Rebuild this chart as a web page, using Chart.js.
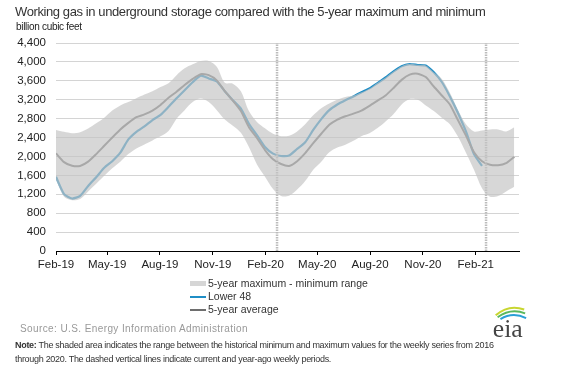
<!DOCTYPE html>
<html>
<head>
<meta charset="utf-8">
<script src="https://cdn.jsdelivr.net/npm/chart.js@4.4.1/dist/chart.umd.min.js"></script>
<style>
  body { margin: 0; background: #fff; font-family: "Liberation Sans", Arial, sans-serif; }
  #wrap { position: relative; width: 565px; height: 375px; overflow: hidden; }
  #chart { position: absolute; left: 0; top: 0; }
  .txt { position: absolute; white-space: nowrap; }
  #title { left: 15px; top: 4px; font-size: 13px; color: #333; letter-spacing: -0.4px; }
  #units { left: 16px; top: 21px; font-size: 10px; color: #222; letter-spacing: -0.3px; }
  #legend { left: 190px; top: 277px; font-size: 10.5px; color: #333; }
  #legend div { height: 13px; line-height: 13px; position: relative; padding-left: 18px; }
  #legend span.sw { position: absolute; left: 0; width: 16px; }
  #source { left: 20px; top: 323px; font-size: 10px; color: #999; letter-spacing: 0.4px; }
  #note { left: 15px; top: 338px; font-size: 9px; color: #333; line-height: 14px; letter-spacing: -0.3px; }
  #logo { left: 490px; top: 302px; width: 38px; height: 38px; }
</style>
</head>
<body>
<div id="wrap">
  <canvas id="chart" width="565" height="375"></canvas>
  <div class="txt" id="title">Working gas in underground  storage compared with the 5-year maximum and minimum</div>
  <div class="txt" id="units">billion cubic feet</div>
  <div class="txt" id="legend">
    <div><span class="sw" style="top:4px;height:5px;background:#d6d6d6;"></span>5-year maximum - minimum range</div>
    <div><span class="sw" style="top:6px;height:2px;background:#1f8ec6;"></span>Lower 48</div>
    <div><span class="sw" style="top:6px;height:2px;background:#6e6e6e;"></span>5-year average</div>
  </div>
  <div class="txt" id="source">Source:  U.S. Energy Information Administration</div>
  <div class="txt" id="note"><b>Note:</b> The shaded area indicates the range between the historical minimum and maximum values for the weekly series from 2016<br>through 2020. The dashed vertical lines indicate current and year-ago weekly periods.</div>
  <svg class="txt" id="logo" viewBox="0 0 40 40">
    <path d="M6 14 Q20 2 36 8" stroke="#c8d630" stroke-width="2.2" fill="none"/>
    <path d="M8 16 Q22 6 37 12" stroke="#5bb85d" stroke-width="2" fill="none"/>
    <path d="M11 18 Q24 10 38 17" stroke="#2a9fd6" stroke-width="2" fill="none"/>
    <text x="3" y="37" font-family="Liberation Serif, DejaVu Serif, serif" font-size="27" fill="#444">eia</text>
  </svg>
</div>
<script>
// weeks since the first weekly report shown (every second week)
const weeks = [0, 2, 4, 6, 8, 10, 12, 14, 16, 18, 20, 22, 24, 26, 28, 30, 32, 34, 36, 38,
  40, 42, 44, 46, 48, 50, 52, 54, 56, 58, 60, 62, 64, 66, 68, 70, 72, 74, 76, 78,
  80, 82, 84, 86, 88, 90, 92, 94, 96, 98, 100, 102, 104, 106, 108, 110, 112, 114];

const lower48 = [1570, 1205, 1110, 1165, 1375, 1560, 1760, 1900, 2080, 2360,
  2520, 2635, 2770, 2880, 3050, 3230, 3400, 3570, 3710, 3650,
  3590, 3380, 3190, 3010, 2690, 2450, 2200, 2060, 2010, 2020,
  2160, 2300, 2560, 2790, 2980, 3100, 3190, 3270, 3360, 3440,
  3550, 3670, 3800, 3910, 3955, 3935, 3925, 3780, 3575, 3270,
  2920, 2530, 2050, 1800];

const avg5 = [2066, 1880, 1803, 1800, 1890, 2050, 2225, 2400, 2570, 2710,
  2830, 2890, 2970, 3090, 3240, 3370, 3510, 3640, 3740, 3720,
  3610, 3380, 3180, 2960, 2620, 2390, 2135, 1940, 1840, 1800,
  1900, 2070, 2280, 2480, 2670, 2780, 2850, 2905, 2970, 3070,
  3180, 3290, 3450, 3620, 3730, 3750, 3680, 3480, 3290, 3100,
  2770, 2440, 2090, 1900, 1825, 1815, 1860, 1990];

const max5 = [2560, 2520, 2490, 2510, 2590, 2700, 2820, 2970, 3080, 3150,
  3230, 3310, 3380, 3470, 3550, 3720, 3865, 3950, 4020, 4020,
  3900, 3560, 3540, 3380, 2960, 2730, 2595, 2480, 2430, 2440,
  2530, 2680, 2870, 3020, 3120, 3200, 3260, 3290, 3360, 3440,
  3560, 3670, 3800, 3910, 3960, 3940, 3925, 3780, 3640, 3350,
  2990, 2680, 2530, 2550, 2570, 2570, 2530, 2620];

const min5 = [1500, 1150, 1075, 1100, 1260, 1420, 1590, 1750, 1890, 2050,
  2170, 2255, 2340, 2425, 2540, 2800, 2980, 3150, 3225, 3150,
  2980, 2780, 2650, 2500, 2200, 1830, 1570, 1310, 1165, 1170,
  1300, 1480, 1720, 1890, 2090, 2190, 2250, 2330, 2430, 2490,
  2600, 2740, 2900, 3100, 3215, 3200, 3080, 2960, 2820, 2680,
  2420, 2080, 1720, 1330, 1150, 1165, 1260, 1360];

const tickLabels = ['Feb-19', 'May-19', 'Aug-19', 'Nov-19', 'Feb-20', 'May-20', 'Aug-20', 'Nov-20', 'Feb-21'];
const tickDates = [[2019, 1], [2019, 4], [2019, 7], [2019, 10], [2020, 1], [2020, 4], [2020, 7], [2020, 10], [2021, 1]];
const markerDates = [[2020, 1, 21], [2021, 1, 19]]; // year-ago and current week

const start = Date.UTC(2019, 1, 1);
const toWeek = (y, m, d) => (Date.UTC(y, m, d || 1) - start) / (7 * 864e5);
const tickWeeks = tickDates.map(t => toWeek(t[0], t[1], 1));
const pts = vals => vals.map((v, i) => ({ x: weeks[i], y: v }));

const markerSets = markerDates.map(d => {
  const w = toWeek(d[0], d[1], d[2]);
  return {
    data: [{ x: w, y: 0 }, { x: w, y: 4400 }],
    borderColor: '#bcbcbc', borderWidth: 2.5, borderDash: [1.5, 1],
    pointRadius: 0, fill: false
  };
});

new Chart(document.getElementById('chart'), {
  type: 'line',
  data: {
    datasets: [
      { label: 'max', data: pts(max5), borderWidth: 0, pointRadius: 0, fill: '+1',
        backgroundColor: 'rgba(196,196,196,0.68)', tension: 0.3 },
      { label: 'min', data: pts(min5), borderWidth: 0, pointRadius: 0, fill: false, tension: 0.3 },
      ...markerSets,
      { label: '5-year average', data: pts(avg5), borderColor: '#6e6e6e', borderWidth: 2,
        pointRadius: 0, fill: false, tension: 0.2 },
      { label: 'Lower 48', data: pts(lower48), borderColor: '#1c8cc5', borderWidth: 2.2,
        pointRadius: 0, fill: false, tension: 0.2 }
    ]
  },
  options: {
    responsive: false,
    animation: false,
    layout: { padding: { left: 0, right: 46, top: 43, bottom: 102 } },
    plugins: { legend: { display: false }, tooltip: { enabled: false } },
    scales: {
      x: {
        type: 'linear', min: 0, max: 115.2,
        afterBuildTicks: s => { s.ticks = tickWeeks.map(v => ({ value: v })); },
        afterFit: s => { s.height = 22; },
        ticks: {
          autoSkip: false, maxRotation: 0, padding: 3,
          color: '#222', font: { family: 'Liberation Sans', size: 11.5 },
          callback: (v, i) => tickLabels[i]
        },
        grid: { drawOnChartArea: false, drawTicks: true, tickLength: 4, color: '#000' },
        border: { color: '#000', width: 1 }
      },
      y: {
        min: 0, max: 4400,
        afterFit: s => { s.width = 56; },
        ticks: {
          stepSize: 400, padding: 10,
          color: '#222', font: { family: 'Liberation Sans', size: 11.5 }
        },
        grid: { color: '#d4d4d4', drawTicks: false },
        border: { display: false }
      }
    }
  }
});
</script>
</body>
</html>
